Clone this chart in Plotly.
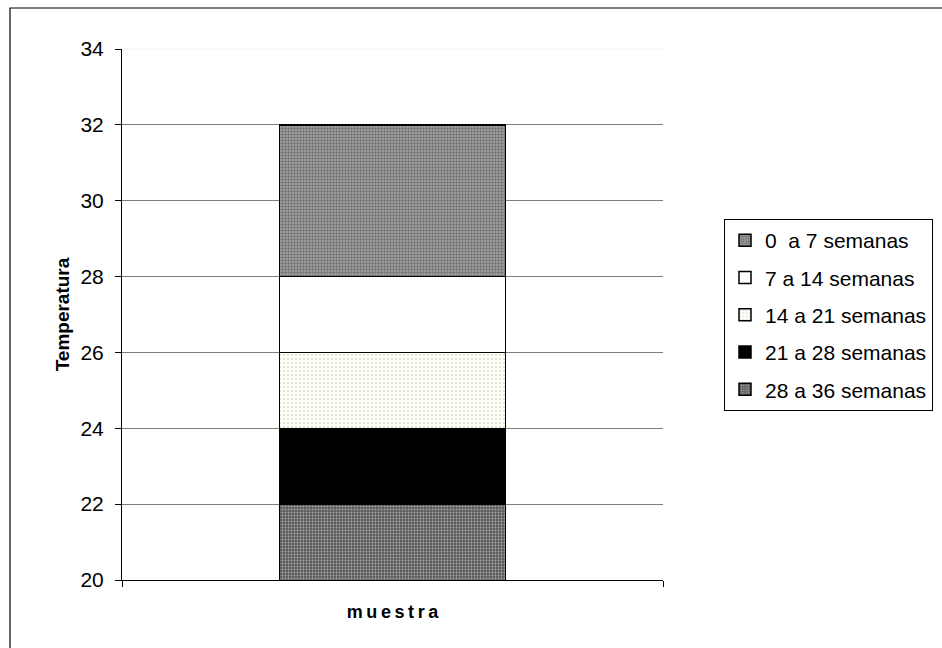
import plotly.graph_objects as go

categories = ["muestra"]
series_names = ["28 a 36 semanas", "21 a 28 semanas", "14 a 21 semanas", "7 a 14 semanas", "0  a 7 semanas"]
series_values = [[22], [2], [2], [2], [4]]
y_ticks = [20, 22, 24, 26, 28, 30, 32, 34]

styles = [
    dict(color="#707070", pattern=dict(shape=".", fgcolor="#ffffff", bgcolor="#5a5a5a", size=3, solidity=0.3)),
    dict(color="#000000"),
    dict(color="#fffff6", pattern=dict(shape=".", fgcolor="#b0b0b0", bgcolor="#fffff6", size=4, solidity=0.2)),
    dict(color="#ffffff"),
    dict(color="#808080", pattern=dict(shape="+", fgcolor="#474747", bgcolor="#9a9a9a", size=3, solidity=0.4)),
]

FONT = "Liberation Sans, Arial, sans-serif"
fig = go.Figure()
n = len(series_names)
for i, (name, vals) in enumerate(zip(series_names, series_values)):
    st = styles[i]
    marker = dict(color=st["color"], line=dict(color="#000000", width=1.5))
    if "pattern" in st:
        marker["pattern"] = st["pattern"]
    fig.add_trace(go.Bar(x=categories, y=vals, name=name, marker=marker,
                         width=0.418, legendgroup=name, legendrank=n - i))

L, R, T, B = 122, 279, 49, 68
W, H = 942, 648
pw, ph = W - L - R, H - T - B

def px_x(x):
    return (x - L) / pw

def px_y(y):
    return (H - B - y) / ph

fig.update_layout(
    width=W, height=H,
    margin=dict(l=L, r=R, t=T, b=B, autoexpand=False),
    barmode="stack",
    paper_bgcolor="white", plot_bgcolor="white",
    font=dict(family=FONT, size=20, color="black"),
    showlegend=True,
    legend=dict(
        traceorder="grouped", tracegroupgap=7,
        xref="container", yref="container",
        x=724 / W, y=1 - 219 / H, xanchor="left", yanchor="top",
        bordercolor="black", borderwidth=1, bgcolor="white",
        font=dict(family=FONT, size=21, color="black"),
        itemwidth=30,
    ),
    xaxis=dict(
        type="category", tickson="boundaries", ticks="outside", ticklen=6,
        tickcolor="black", showticklabels=False, showline=True, linecolor="black",
        linewidth=1, showgrid=False,
        title=dict(text="<b>" + "\u2009".join("muestra") + "</b>", standoff=25,
                   font=dict(family=FONT, size=18)),
    ),
    yaxis=dict(
        range=[20, 34], tickvals=y_ticks, ticks="outside", ticklen=6, tickcolor="black",
        showline=True, linecolor="black", linewidth=1,
        showgrid=True, gridcolor="#808080", gridwidth=1,
        tickfont=dict(family=FONT, size=21), zeroline=False, ticklabelstandoff=7,
        title=dict(text="<b>Temperatura</b>", standoff=5, font=dict(family=FONT, size=19)),
    ),
    shapes=[
        dict(type="rect", xref="paper", yref="paper",
             x0=px_x(10), x1=px_x(946), y0=px_y(652), y1=px_y(8),
             line=dict(color="black", width=1.2), fillcolor="rgba(0,0,0,0)", layer="below"),
        dict(type="line", xref="paper", yref="paper", x0=0, x1=1, y0=1, y1=1,
             line=dict(color="#f0f0f0", width=1), layer="above"),
    ],
)

fig.write_html("out.html")
